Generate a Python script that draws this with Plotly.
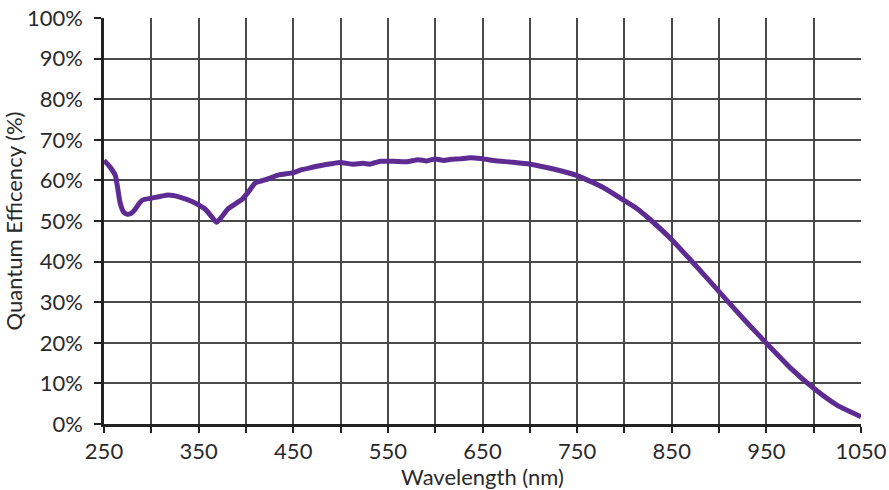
import plotly.graph_objects as go

wavelength_nm = [250, 256, 262, 267, 271, 274, 278, 282, 287, 291, 300, 310, 318, 330, 343, 357, 364, 369, 374, 381, 390, 396, 403, 410, 420, 434, 450,
                 457, 468, 478, 490, 500, 512, 524, 531, 542, 556, 570, 582, 591, 600, 609, 617, 626, 637, 648, 662,
                 680, 700, 725, 750, 778, 800, 813, 825, 850, 875, 900, 925, 950, 975, 1000, 1025, 1050]
qe_percent = [64.9, 63.4, 61.2, 54.5, 52.1, 51.7, 51.8, 52.6, 54.3, 55.2, 55.6, 56.1, 56.4, 55.9, 54.8, 52.9, 51.0, 49.7, 50.9, 53.0, 54.4, 55.3, 57.3, 59.4, 60.1, 61.3, 61.9,
              62.5, 63.1, 63.6, 64.1, 64.4, 64.0, 64.2, 64.0, 64.7, 64.7, 64.6, 65.1, 64.8, 65.3, 64.9, 65.2, 65.3, 65.6, 65.4, 64.9,
              64.5, 64.0, 62.8, 61.2, 58.2, 55.0, 53.1, 50.8, 45.4, 39.1, 32.6, 26.1, 19.9, 13.9, 8.8, 4.6, 1.8]

x_tick_vals = list(range(250, 1051, 50))
x_tick_text = [str(v) if (v - 250) % 100 == 0 else "" for v in x_tick_vals]
y_tick_vals = list(range(0, 101, 10))
y_tick_text = [f"{v}%" for v in y_tick_vals]

FONT = "Lato, 'Open Sans', sans-serif"
TXT = "#2a2a2a"
GRID = "#4a4a4a"
FS = 22

fig = go.Figure()
fig.add_trace(go.Scatter(
    x=wavelength_nm, y=qe_percent, mode="lines",
    line=dict(color="#5e2b92", width=5, shape="spline", smoothing=0.5),
    hoverinfo="x+y", showlegend=False,
))

fig.update_layout(
    width=889, height=490,
    margin=dict(l=104, r=28, t=18, b=66),
    paper_bgcolor="white", plot_bgcolor="white",
    font=dict(family=FONT, size=FS, color=TXT),
    xaxis=dict(
        range=[250, 1050], tickvals=x_tick_vals, ticktext=x_tick_text,
        showgrid=True, gridcolor=GRID, gridwidth=1.5,
        showline=True, linecolor="#222", linewidth=2.5,
        ticks="outside", ticklen=6, tickwidth=1.5, tickcolor="#222",
        tickfont=dict(family=FONT, size=FS, color=TXT),
        ticklabeloverflow="allow",
        title=dict(text="Wavelength (nm)", font=dict(family=FONT, size=FS, color=TXT), standoff=3),
        zeroline=False, automargin=False,
    ),
    yaxis=dict(
        range=[0, 100], tickvals=y_tick_vals, ticktext=y_tick_text,
        showgrid=True, gridcolor=GRID, gridwidth=1.5,
        showline=True, linecolor="#222", linewidth=2.5,
        ticks="outside", ticklen=7, tickwidth=1.5, tickcolor="#222",
        tickfont=dict(family=FONT, size=FS, color=TXT),
        ticklabeloverflow="allow", ticklabelstandoff=7,
        title=dict(text="Quantum Efficency (%)", font=dict(family=FONT, size=FS, color=TXT), standoff=8),
        zeroline=False, automargin=False,
    ),
)

# remove the default 8px page margin so the 889x490 figure fills the window exactly
fig.write_html(
    "out.html",
    config={"displayModeBar": False},
    post_script="document.body.style.margin='0';document.body.style.overflow='hidden';",
)
